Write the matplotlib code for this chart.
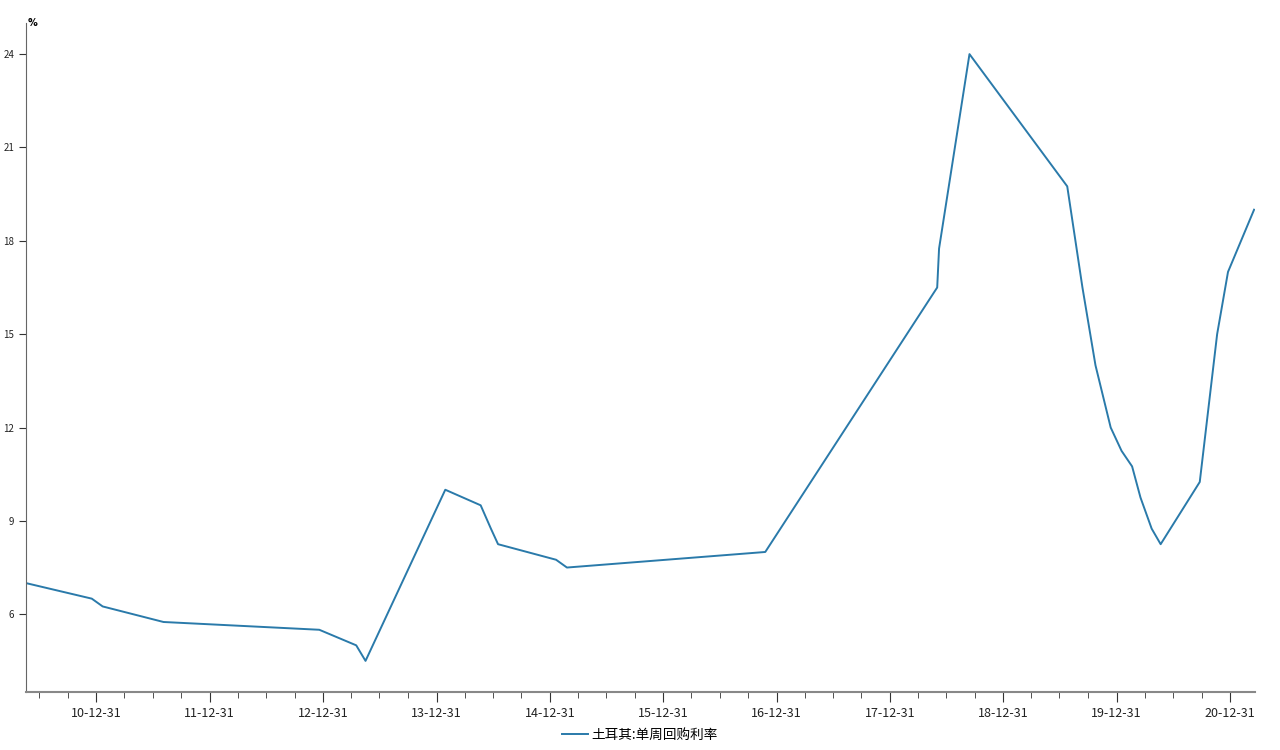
import matplotlib
matplotlib.use("Agg")
import matplotlib.pyplot as plt
import matplotlib.dates as mdates
import pandas as pd

plt.rcParams['font.family'] = ['Noto Sans CJK SC', 'DejaVu Sans']

# Turkey one-week repo rate (%), change dates
dates = pd.to_datetime([
    "2010-05-18", "2010-12-16", "2011-01-20", "2011-08-04", "2012-12-18",
    "2013-04-16", "2013-05-16", "2014-01-28", "2014-05-22", "2014-06-24",
    "2014-07-17", "2015-01-20", "2015-02-24", "2016-11-24", "2018-06-01",
    "2018-06-07", "2018-09-13", "2019-07-25", "2019-09-12", "2019-10-24",
    "2019-12-12", "2020-01-16", "2020-02-19", "2020-03-17", "2020-04-22",
    "2020-05-21", "2020-09-24", "2020-11-19", "2020-12-24", "2021-03-18",
])
rates = [
    7.0, 6.5, 6.25, 5.75, 5.5,
    5.0, 4.5, 10.0, 9.5, 8.75,
    8.25, 7.75, 7.5, 8.0, 16.5,
    17.75, 24.0, 19.75, 16.5, 14.0,
    12.0, 11.25, 10.75, 9.75, 8.75,
    8.25, 10.25, 15.0, 17.0, 19.0,
]
series_name = "土耳其:单周回购利率"
y_ticks = [6, 9, 12, 15, 18, 21, 24]

major_ticks = pd.date_range("2010-12-31", "2020-12-31", freq="YE")
minor_ticks = pd.date_range("2010-06-30", "2020-12-31", freq="QE")

fig = plt.figure(figsize=(12.8, 7.5), dpi=100)
ax = fig.add_axes([26 / 1280, 58 / 750, 1229 / 1280, 669 / 750])

line, = ax.plot(dates, rates, color="#2a7aaa", linewidth=1.4, label=series_name)

ax.set_yticks(y_ticks)
ax.set_xticks(major_ticks)
ax.set_xticks(minor_ticks, minor=True)
ax.xaxis.set_major_formatter(mdates.DateFormatter("%y-%m-%d"))
ax.set_xlim(dates[0], dates[-1] + pd.Timedelta(days=3))
ax.set_ylim(3.5, 25)

for s in ["top", "right"]:
    ax.spines[s].set_visible(False)
ax.spines["left"].set_color("#666666")
ax.spines["bottom"].set_color("#888888")
ax.spines["bottom"].set_linewidth(1.5)

ax.tick_params(axis="y", labelsize=7, length=5, color="#333333", labelcolor="#222222")
ax.tick_params(axis="x", which="major", labelsize=9, length=7, pad=4,
               color="#333333", labelcolor="#222222")
ax.tick_params(axis="x", which="minor", length=4, color="#333333")

ax.text(0.001, 1.0, "%", transform=ax.transAxes, fontsize=7, fontweight="bold",
        va="center", ha="left", family="DejaVu Sans")

fig.legend(handles=[line], loc="center", bbox_to_anchor=(0.5, 1 - 735 / 750),
           frameon=False, fontsize=9.8, handlelength=1.9, handletextpad=0.3)

fig.savefig("out.png", dpi=100)
